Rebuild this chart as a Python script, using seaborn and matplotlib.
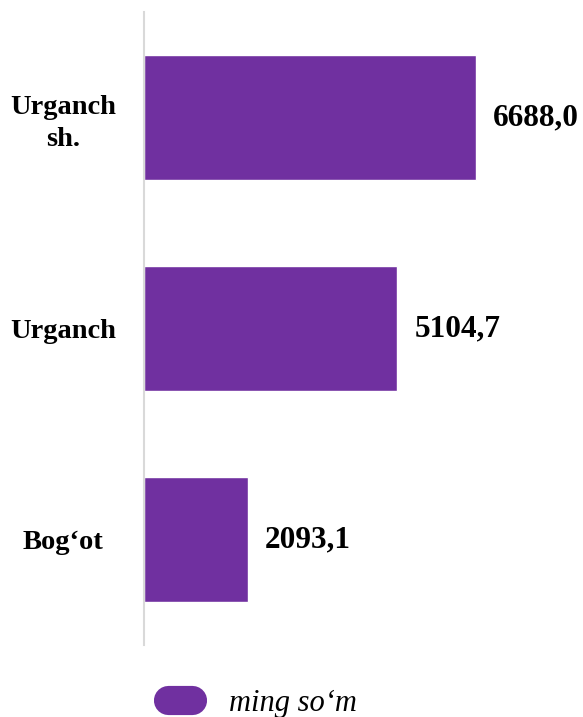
import matplotlib
matplotlib.use("Agg")
import matplotlib.pyplot as plt
import seaborn as sns
import pandas as pd
from matplotlib.lines import Line2D

# data
categories = ["Urganch\nsh.", "Urganch", "Bog‘ot"]
values = [6688.0, 5104.7, 2093.1]
value_labels = ["6688,0", "5104,7", "2093,1"]
legend_label = "ming so‘m"

purple = "#7030A0"

sns.set_style("white")
plt.rcParams["font.family"] = ["Liberation Serif", "DejaVu Serif"]
plt.rcParams["text.color"] = "black"
plt.rcParams["ytick.color"] = "black"

df = pd.DataFrame({"cat": categories, "val": values})

fig = plt.figure(figsize=(5.83, 7.17), dpi=100)
ax = fig.add_axes([144 / 583, 72 / 717, 1 - 144 / 583, 633 / 717])

sns.barplot(data=df, x="val", y="cat", orient="h", color=purple,
            saturation=1, width=0.59, ax=ax)

ax.set_xlim(0, 8844)
ax.set_ylim(2.5, -0.5)
ax.set_xlabel("")
ax.set_ylabel("")
ax.set_xticks([])

for s in ["top", "right", "bottom"]:
    ax.spines[s].set_visible(False)
ax.spines["left"].set_color("#d9d9d9")
ax.spines["left"].set_linewidth(1.5)

ax.tick_params(axis="y", length=0, pad=0)
fig.canvas.draw()
for lbl in ax.get_yticklabels():
    lbl.set_fontsize(20.5)
    lbl.set_fontweight("bold")
    lbl.set_color("black")
    lbl.set_horizontalalignment("center")
    lbl.set_multialignment("center")
    lbl.set_linespacing(1.35)
    lbl.set_transform(matplotlib.transforms.blended_transform_factory(ax.transAxes, ax.transData))
    lbl.set_x((63 - 144) / (583 - 144))

for i, (v, t) in enumerate(zip(values, value_labels)):
    ax.annotate(t, xy=(v, i), xytext=(17, 0), textcoords="offset pixels",
                va="center", ha="left", fontsize=22.5, fontweight="bold",
                color="black", annotation_clip=False)

handle = Line2D([0], [0], color=purple, lw=21, solid_capstyle="round")
leg = fig.legend([handle], [legend_label], loc="center",
                 bbox_to_anchor=(262 / 583, 1 - 703 / 717),
                 frameon=False, handlelength=0.8, handletextpad=1.2,
                 prop={"family": "Liberation Serif", "style": "italic", "size": 22})
for t in leg.get_texts():
    t.set_color("black")

fig.savefig("out.png", dpi=100)
